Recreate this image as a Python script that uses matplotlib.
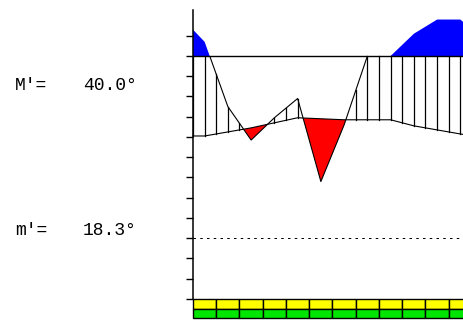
import numpy as np
import matplotlib.pyplot as plt
from matplotlib.patches import Rectangle

# positions along the year (month units), with the Dec/Jan wrap at both ends
xpts = [0, 0.5, 1.5, 2.5, 3.5, 4.5, 5.5, 6.5, 7.5, 8.5, 9.5, 10.5, 11.5, 12]
upper = [133, 127, 95, 78.5, 89.5, 99, 58, 86, 120, 120, 131, 138, 138, 133]
lower = [80.5, 80.5, 82.5, 84.5, 87, 89.5, 89, 88.5, 88.5, 88.5, 85.5, 83.5, 81.5, 80.5]
ticks = np.arange(0, 140, 10)
top_level = 120
low_level = 30
labels = ["M'=", "m'="]
values = ["40.0°", "18.3°"]
label_levels = [105.2, 33.6]
bar_rows = [["#ffff00"] * 12, ["#00e600"] * 12]

x = np.array(xpts, dtype=float)
A = np.array(upper, dtype=float)
B = np.array(lower, dtype=float)

fig = plt.figure(figsize=(4.64, 3.2), dpi=100)
ax = fig.add_axes([0, 0, 1, 1])
ax.set_xlim(-8.301, 11.656)
ax.set_ylim(-10.37, 147.65)
ax.axis('off')

# blue part above the top level
ax.fill_between(x, top_level, A, where=A > top_level, interpolate=True,
                color='#0000ff', lw=0, zorder=2)
# red where upper curve falls under the lower one
ax.fill_between(x, A, B, where=A < B, interpolate=True,
                color='#ff0000', lw=0, zorder=2)

# vertical hatching every half month
for xh in np.arange(0, 12.01, 0.5):
    a = np.interp(xh, x, A)
    b = np.interp(xh, x, B)
    if a > b:
        ax.plot([xh, xh], [b, min(a, top_level)], color='black', lw=0.9, zorder=3)

line_a, = ax.plot(x, A, color='black', lw=0.8, zorder=3)
line_a.set_clip_path(Rectangle((-10, -20), 30, 20 + top_level, transform=ax.transData))
ax.plot(x, B, color='black', lw=0.8, zorder=3)

ax.plot([0, 12], [top_level, top_level], color='black', lw=1.0, zorder=4)
ax.plot([0, 12], [low_level, low_level], color='black', lw=0.72,
        linestyle=(0, (2.5, 4.25)), zorder=4)

# axis and ticks
ax.plot([0, 0], [0, 142.7], color='black', lw=1.1, zorder=5)
ax.hlines(ticks, -0.28, 0, color='black', lw=1.0, zorder=5)

# bottom rows of cells
for r, row in enumerate(bar_rows):
    for i, c in enumerate(row):
        ax.add_patch(Rectangle((i, -4.7 - 4.9 * r), 1, 4.7 if r == 0 else 4.9,
                               facecolor=c, edgecolor='black', lw=1.0, zorder=5))

for lab, val, lev in zip(labels, values, label_levels):
    ax.text(-6.28, lev, lab, ha='right', va='center',
            family='Liberation Mono', fontsize=13)
    ax.text(-4.73, lev, val, ha='left', va='center',
            family='Liberation Mono', fontsize=13)

fig.savefig('out.png', dpi=100)
